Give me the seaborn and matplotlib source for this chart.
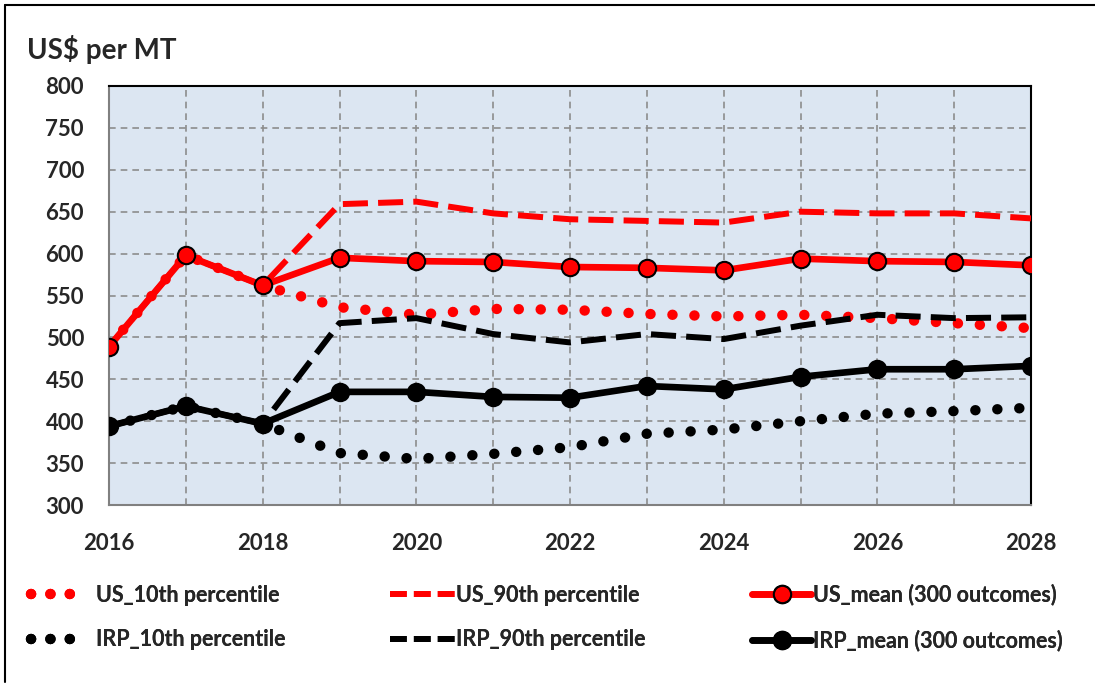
import matplotlib
matplotlib.use("Agg")
import matplotlib.pyplot as plt
import seaborn as sns
import pandas as pd
from matplotlib.lines import Line2D

years = list(range(2016, 2029))
us_p10 = [489, 598, 562, 536, 527, 534, 533, 528, 525, 527, 523, 517, 511]
us_p90 = [489, 598, 562, 659, 662, 648, 641, 639, 637, 650, 648, 648, 642]
us_mean = [489, 598, 562, 595, 591, 590, 584, 583, 580, 594, 591, 590, 586]
irp_p10 = [394, 418, 397, 362, 355, 361, 369, 385, 390, 400, 409, 412, 416]
irp_p90 = [394, 418, 397, 517, 523, 504, 494, 504, 498, 514, 527, 523, 524]
irp_mean = [394, 418, 397, 435, 435, 429, 428, 442, 438, 453, 462, 462, 466]

labels = ["US_10th percentile", "US_90th percentile", "US_mean (300 outcomes)",
          "IRP_10th percentile", "IRP_90th percentile", "IRP_mean (300 outcomes)"]
series = [us_p10, us_p90, us_mean, irp_p10, irp_p90, irp_mean]

df = pd.DataFrame({"year": years})
for lab, vals in zip(labels, series):
    df[lab] = vals

sns.set_theme(style="white")
plt.rcParams['font.family'] = ['Lato', 'DejaVu Sans']
plt.rcParams['font.weight'] = 'bold'

W, H = 1095, 687
fig = plt.figure(figsize=(W / 100, H / 100), dpi=100)
ax = fig.add_axes([109 / W, 1 - 505 / H, (1031 - 109) / W, (505 - 86) / H])
ax.set_facecolor("#DCE6F2")

dot = (0, (0.01, 2.1))
dash = (0, (4.2, 1.7))
legend_dash = (0, (2.8, 1.2))
legend_dot = (0, (0.01, 1.85))
styles = {
    "US_10th percentile": dict(color="#FF0000", lw=7.5, ls=dot, z=3),
    "US_90th percentile": dict(color="#FF0000", lw=4.3, ls=dash, z=3),
    "US_mean (300 outcomes)": dict(color="#FF0000", lw=4.8, ls="-", marker="o", mfc="#FF0000", z=5),
    "IRP_10th percentile": dict(color="black", lw=7.5, ls=dot, z=3),
    "IRP_90th percentile": dict(color="black", lw=4.3, ls=dash, z=3),
    "IRP_mean (300 outcomes)": dict(color="black", lw=4.8, ls="-", marker="o", mfc="black", z=4),
}

handles = {}
for lab in labels:
    s = styles[lab]
    kw = dict(color=s["color"], linewidth=s["lw"], linestyle=s["ls"])
    if "marker" in s:
        kw.update(marker="o", markerfacecolor=s["mfc"], markeredgecolor="black",
                  markersize=12.5, markeredgewidth=1.5)
    else:
        kw.update(dash_capstyle="round" if s["ls"] == dot else "butt")
    sns.lineplot(data=df, x="year", y=lab, ax=ax, zorder=s["z"], **kw)
    hkw = dict(kw)
    if s["ls"] == dash:
        hkw["linestyle"] = legend_dash
    elif s["ls"] == dot:
        hkw["linestyle"] = legend_dot
    handles[lab] = Line2D([0], [0], **hkw)

ax.set_xlim(2016, 2028)
ax.set_ylim(300, 800)
ax.set_xticks(range(2016, 2029, 1))
ax.set_xticklabels([str(y) if y % 2 == 0 else "" for y in range(2016, 2029)])
ax.set_yticks(range(300, 801, 50))
ax.tick_params(axis="both", labelsize=16, length=5, width=1.2, color="#808080",
               direction="out")
ax.tick_params(axis="x", pad=15)
ax.tick_params(axis="y", pad=13)
for t in ax.get_xticklabels() + ax.get_yticklabels():
    t.set_fontweight("bold")
ax.set_xlabel("")
ax.set_ylabel("")
ax.grid(True, color="#8C8C8C", linestyle=(0, (4, 3)), linewidth=1.2)
ax.set_axisbelow(True)
for sp in ["left", "bottom"]:
    ax.spines[sp].set_color("#808080")
    ax.spines[sp].set_linewidth(1.5)
for sp in ["top", "right"]:
    ax.spines[sp].set_color("black")
    ax.spines[sp].set_linewidth(1.5)

fig.text(27 / W, 1 - 50 / H, "US$ per MT", fontsize=20, fontweight="bold",
         va="center", ha="left")

cols = [
    (["US_10th percentile", "IRP_10th percentile"], 31, 2.05, 0.95),
    (["US_90th percentile", "IRP_90th percentile"], 390, 3.0, 0.08),
    (["US_mean (300 outcomes)", "IRP_mean (300 outcomes)"], 752, 2.75, 0.1),
]
for names, x0, hl, tp in cols:
    leg = fig.legend([handles[n] for n in names], names, loc="center left",
                     bbox_to_anchor=(x0 / W, 1 - 617.5 / H), ncol=1, frameon=False,
                     prop=dict(size=15.5, weight="bold"), handlelength=hl,
                     handletextpad=tp, labelspacing=1.1, borderpad=0,
                     borderaxespad=0)
    fig.add_artist(leg)

fig.add_artist(Line2D([5 / W, 5 / W], [1 - 682 / H, 1 - 5 / H], transform=fig.transFigure,
                      color="black", linewidth=1.5))
fig.add_artist(Line2D([5 / W, 1.0], [1 - 5 / H, 1 - 5 / H], transform=fig.transFigure,
                      color="black", linewidth=1.5))

fig.savefig("out.png", dpi=100)
